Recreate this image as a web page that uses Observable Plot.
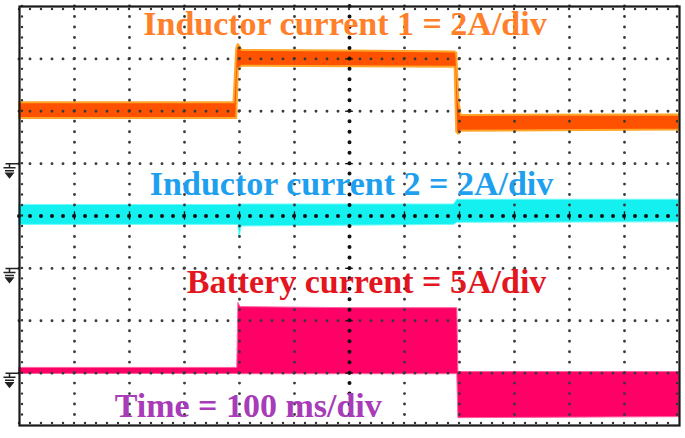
<!DOCTYPE html>
<html><head><meta charset="utf-8">
<script src="https://cdn.jsdelivr.net/npm/d3@7"></script>
<script src="https://cdn.jsdelivr.net/npm/@observablehq/plot@0.6"></script>
<style>html,body{margin:0;padding:0;background:#fff;}</style>
</head><body><div id="chart"></div>
<script>
// ---- data (time in ms, currents in A) ----
const ind1Time = [0, 390, 395, 398, 405, 600, 792, 795, 799, 803, 1200];
const ind1Low  = [1.72, 1.72, 1.72, 3.60, 3.72, 3.70, 3.68, 1.20, 1.12, 1.24, 1.28];
const ind1High = [2.32, 2.32, 4.40, 4.55, 4.32, 4.30, 4.26, 4.22, 2.40, 1.84, 1.86];

const ind2Time = [0, 396, 398, 400, 404, 790, 796, 1200];
const ind2Low  = [1.66, 1.66, 1.66, 1.16, 1.60, 1.66, 1.74, 1.76];
const ind2High = [2.42, 2.42, 2.42, 2.42, 2.44, 2.44, 2.62, 2.62];

const batTime = [0, 396, 398, 402, 600, 796, 798, 1200];
const batLow  = [-0.08, -0.08, -0.10, -0.10, -0.10, -0.10, -4.30, -4.20];
const batHigh = [0.50, 0.50, 6.70, 6.30, 6.20, 6.20, 0.10, 0.10];

// channel scale settings: amps per division and ground offset (divisions)
const channelGain   = [2, 2, 5];
const channelGround = [1, -1, -3];

const labelTexts = ["Inductor current 1 = 2A/div", "Inductor current 2 = 2A/div",
                    "Battery current = 5A/div", "Time = 100 ms/div"];

// grid: 100 ms/div over 12 divisions, 8 vertical divisions
const xMajor = d3.range(100, 1200, 100).filter(d => d !== 600);
const yMajor = d3.range(-3, 4, 1).filter(d => d !== 0);
const grounds = channelGround;

function toDiv(amps, ch) { return amps / channelGain[ch] + channelGround[ch]; }
function band(time, lo, hi, ch) {
  return time.map((t, i) => ({t, lo: toDiv(lo[i], ch), hi: toDiv(hi[i], ch)}));
}
const ind1 = band(ind1Time, ind1Low, ind1High, 0);
const ind2 = band(ind2Time, ind2Low, ind2High, 1);
const bat  = band(batTime, batLow, batHigh, 2);

const groundSymbol = {
  draw(ctx) {
    ctx.moveTo(-14, 0); ctx.lineTo(0, 0);
    ctx.moveTo(-10, 0); ctx.lineTo(-10, 4);
    ctx.moveTo(-16, 4); ctx.lineTo(-4, 4);
    ctx.moveTo(-14.5, 7); ctx.lineTo(-5.5, 7);
    ctx.moveTo(-13.5, 9.5); ctx.lineTo(-6.5, 9.5); ctx.lineTo(-10, 14); ctx.closePath();
  }
};

const W = 685, H = 438;
const fontFam = "'Liberation Serif','Times New Roman',serif";
const dotV = "0 10.475", dotH = "0 11";
const txt = (i, x, y, color) => Plot.text([labelTexts[i]], {
  x: () => x, y: () => y, text: d => d, textAnchor: "start", lineAnchor: "bottom",
  fill: color, fontSize: 34, fontWeight: "bold", fontFamily: fontFam
});

const chart = Plot.plot({
  width: W, height: H,
  marginLeft: 19, marginRight: 6, marginTop: 6, marginBottom: 13,
  x: {domain: [0, 1200], axis: null},
  y: {domain: [-4, 4], axis: null},
  style: {background: "#fff", overflow: "visible"},
  marks: [
    // traces
    Plot.areaY(bat, {x: "t", y1: "lo", y2: "hi", curve: "linear", fill: "#ff0066", stroke: "#ff5f9f", strokeWidth: 1}),
    Plot.areaY(ind1, {x: "t", y1: "lo", y2: "hi", curve: "linear", fill: "#ff5200", stroke: "#ffa62a", strokeWidth: 2}),
    Plot.areaY(ind2, {x: "t", y1: "lo", y2: "hi", curve: "linear", fill: "#14f0f0", stroke: "#6ffcfc", strokeWidth: 1}),
    // dotted graticule
    Plot.ruleX(xMajor, {stroke: "#3a3a3a", strokeWidth: 2.9, strokeDasharray: dotV, strokeLinecap: "round"}),
    Plot.ruleY(yMajor, {stroke: "#3a3a3a", strokeWidth: 2.9, strokeDasharray: dotH, strokeLinecap: "round"}),
    Plot.ruleX([600], {stroke: "#111", strokeWidth: 4, strokeDasharray: dotV, strokeLinecap: "round"}),
    Plot.ruleY([0], {stroke: "#111", strokeWidth: 4, strokeDasharray: dotH, strokeLinecap: "round"}),
    // centre-line cross ticks
    Plot.ruleX(xMajor, {y1: -0.08, y2: 0.08, stroke: "#111", strokeWidth: 1.3}),
    Plot.ruleY(yMajor, {x1: 593, x2: 607, stroke: "#111", strokeWidth: 1.3}),
    // border ticks
    Plot.ruleX([0], {dx: 2.5, stroke: "#333", strokeWidth: 2.4, strokeDasharray: dotV, strokeLinecap: "round"}),
    Plot.ruleX([1200], {dx: -2.5, stroke: "#333", strokeWidth: 2.4, strokeDasharray: dotV, strokeLinecap: "round"}),
    Plot.ruleY([4], {dy: 2.5, stroke: "#333", strokeWidth: 2.4, strokeDasharray: dotH, strokeLinecap: "round"}),
    Plot.ruleY([-4], {dy: -2.5, stroke: "#333", strokeWidth: 2.4, strokeDasharray: dotH, strokeLinecap: "round"}),
    Plot.frame({stroke: "#1a1a1a", strokeWidth: 2.2}),
    // ground markers
    Plot.dot(grounds, {x: () => 0, y: d => d, symbol: groundSymbol, r: 5, fill: "#222", stroke: "#222", strokeWidth: 1.5}),
    // labels
    txt(0, 225, 3.46, "#ff7f2a"),
    txt(1, 237, 0.40, "#1ea0ee"),
    txt(2, 304, -1.47, "#e3161f"),
    txt(3, 173, -3.84, "#a83cb8")
  ]
});
document.getElementById("chart").appendChild(chart);
</script>
</body></html>
